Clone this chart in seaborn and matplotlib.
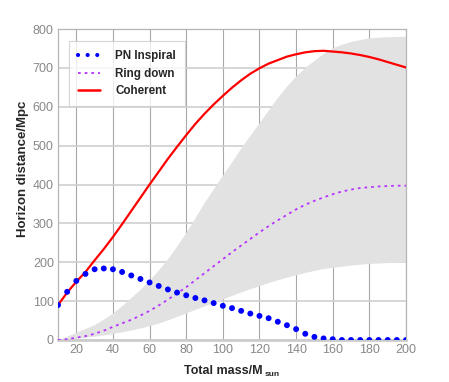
import numpy as np
import pandas as pd
import matplotlib
matplotlib.use("Agg")
import matplotlib.pyplot as plt
import seaborn as sns
from matplotlib.lines import Line2D

# ---- data ----
mass = list(range(10, 201, 5))
pn_dist = [90, 124, 152, 170, 182, 184, 182, 175, 166, 157, 148, 139, 130, 122,
           115, 108, 102, 95, 88, 82, 75, 68, 62, 56, 47, 38, 28, 16, 8, 4, 2,
           0, 0, 0, 0, 0, 0, 0, 0]
ring_dist = [0, 2, 6, 10, 16, 24, 34, 43, 52, 63, 75, 89, 104, 120, 136, 154,
             172, 190, 208, 226, 243, 260, 277, 293, 308, 322, 336, 348, 358,
             367, 375, 382, 387, 391, 393, 395, 396, 397, 397]
coh_dist = [90, 122, 150, 175, 205, 234, 265, 298, 332, 366, 400, 433, 466, 497,
            527, 556, 582, 606, 628, 649, 668, 685, 699, 711, 720, 729, 735, 740,
            743, 744, 742, 740, 737, 733, 728, 722, 715, 708, 701]
band_low = [0, 2, 5, 7, 10, 13, 17, 21, 26, 31, 37, 44, 52, 61, 70, 79, 88, 97,
            106, 115, 124, 132, 140, 148, 155, 162, 168, 174, 179, 184, 187, 190,
            193, 195, 197, 198, 199, 200, 200]
band_high = [0, 10, 20, 30, 40, 54, 70, 89, 110, 131, 155, 181, 210, 243, 278,
             316, 355, 390, 425, 460, 495, 528, 560, 593, 625, 654, 680, 702, 720,
             738, 752, 761, 768, 773, 777, 779, 780, 781, 781]

x_ticks = [20, 40, 60, 80, 100, 120, 140, 160, 180, 200]
y_ticks = [0, 100, 200, 300, 400, 500, 600, 700, 800]

sns.set_style("white")
plt.rcParams['font.family'] = ['Liberation Sans', 'DejaVu Sans']

fig = plt.figure(figsize=(4.49, 3.82), dpi=100)
ax = fig.add_axes([58/449, 1-340/382, (406-58)/449, (340-29)/382])

ax.fill_between(mass, band_low, band_high, color='#e2e2e2', lw=0, zorder=1)

df = pd.DataFrame({'m': mass, 'pn': pn_dist, 'ring': ring_dist, 'coh': coh_dist})

sns.lineplot(data=df, x='m', y='ring', ax=ax, color='#b732ff', lw=1.3,
             linestyle=(0, (1.5, 2.2)), zorder=3)
sns.lineplot(data=df, x='m', y='coh', ax=ax, color='#ff0000', lw=1.6, zorder=4)
sns.scatterplot(data=df, x='m', y='pn', ax=ax, color='#0000ff', s=18,
                edgecolor='none', zorder=5)

ax.set_xlim(10, 200)
ax.set_ylim(0, 800)
ax.set_xticks(x_ticks)
ax.set_yticks(y_ticks)
ax.xaxis.grid(True, color='#a8a8a8', lw=0.8)
ax.yaxis.grid(True, color='#cfcfcf', lw=1.2)
ax.tick_params(axis='both', length=0, labelsize=9, labelcolor='#888888', pad=3)
for s in ['top', 'right', 'left']:
    ax.spines[s].set_color('#b5b5b5')
    ax.spines[s].set_linewidth(0.9)
ax.spines['bottom'].set_color('#cccccc')
ax.spines['bottom'].set_linewidth(2.0)

ax.set_xlabel('Total mass/M', fontsize=9, fontweight='bold', labelpad=6)
ax.set_ylabel('Horizon distance/Mpc', fontsize=9.5, fontweight='bold', labelpad=3)
ax.xaxis.label.set_position((0.475, 0))
ax.yaxis.label.set_position((0, 0.55))
fig.text(265/449, 1-375/382, 'sun', fontsize=6, fontweight='bold', ha='left', va='center')

handles = [
    Line2D([], [], color='#0000ff', lw=3, linestyle=(0, (0.01, 2.3)), dash_capstyle='round'),
    Line2D([], [], color='#b732ff', lw=1.3, linestyle=(0, (1.5, 2.2))),
    Line2D([], [], color='#ff0000', lw=1.8),
]
leg = ax.legend(handles, ['PN Inspiral', 'Ring down', 'Coherent'],
                loc='upper left', bbox_to_anchor=(0.015, 0.98),
                prop={'weight': 'bold', 'size': 8.4}, frameon=True, fancybox=False,
                edgecolor='#cccccc', handlelength=1.9, handletextpad=1.3,
                borderpad=0.75, labelspacing=0.5)
leg.get_frame().set_linewidth(0.8)

fig.savefig('out.png', dpi=100)
